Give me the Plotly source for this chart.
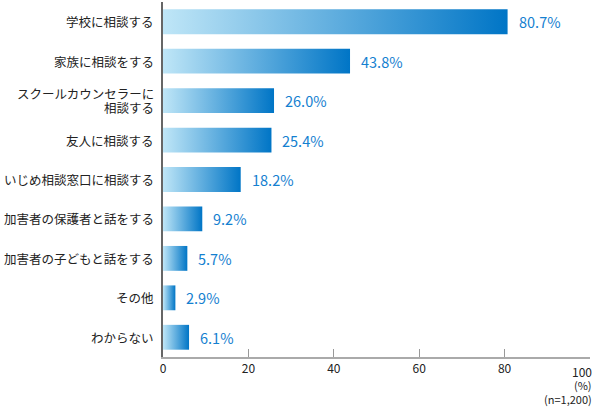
import plotly.graph_objects as go

categories = [
    "学校に相談する",
    "家族に相談をする",
    "スクールカウンセラーに\n相談する",
    "友人に相談する",
    "いじめ相談窓口に相談する",
    "加害者の保護者と話をする",
    "加害者の子どもと話をする",
    "その他",
    "わからない",
]
values = [80.7, 43.8, 26.0, 25.4, 18.2, 9.2, 5.7, 2.9, 6.1]
x_ticks = [0, 20, 40, 60, 80, 100]

FONT = "Noto Sans CJK JP"
LIGHT = "#bfe6f7"
DARK = "#0075c6"
LABEL_BLUE = "#1480d0"
TEXT = "#222222"
half = 0.315

fig = go.Figure()

for i, v in enumerate(values):
    fig.add_trace(
        go.Scatter(
            x=[0, v, v, 0, 0],
            y=[i - half, i - half, i + half, i + half, i - half],
            mode="lines",
            line=dict(width=0),
            fill="toself",
            fillgradient=dict(
                type="horizontal",
                colorscale=[[0, LIGHT], [1, DARK]],
                start=0,
                stop=v,
            ),
            hoverinfo="skip",
            showlegend=False,
        )
    )
    fig.add_annotation(
        x=v, y=i, text=f"{v:.1f}%", showarrow=False,
        xanchor="left", xshift=9,
        font=dict(family=FONT, size=14.5, color=LABEL_BLUE),
    )

# category labels drawn as annotations so two-line labels get tight spacing
for i, cat in enumerate(categories):
    lines = cat.split("\n")
    n = len(lines)
    for k, line in enumerate(lines):
        fig.add_annotation(
            x=0, y=i, xref="x", yref="y", text=line, showarrow=False,
            xanchor="right", xshift=-7, yshift=(n - 1) * 7 - k * 14,
            font=dict(family=FONT, size=12.5, color=TEXT),
        )

# last x tick label kept inside the page
fig.add_annotation(
    x=x_ticks[-1], y=0, xref="x", yref="paper", text=str(x_ticks[-1]),
    showarrow=False, xanchor="right", yanchor="middle", xshift=4, yshift=-14,
    font=dict(family=FONT, size=12, color=TEXT),
)
fig.add_annotation(
    x=1, y=0, xref="paper", yref="paper", yshift=-28, xshift=4,
    text="(%)", showarrow=False, xanchor="right", yanchor="middle",
    font=dict(family=FONT, size=11, color=TEXT),
)
fig.add_annotation(
    x=1, y=0, xref="paper", yref="paper", yshift=-42, xshift=4,
    text="(n=1,200)", showarrow=False, xanchor="right", yanchor="middle",
    font=dict(family=FONT, size=11, color=TEXT),
)

fig.update_layout(
    width=596,
    height=411,
    margin=dict(l=163, r=6, t=2, b=54, autoexpand=False),
    plot_bgcolor="white",
    paper_bgcolor="white",
    font=dict(family=FONT, size=12, color=TEXT),
    xaxis=dict(
        range=[0, 100],
        tickvals=x_ticks,
        ticktext=[str(t) for t in x_ticks[:-1]] + [""],
        ticks="inside",
        ticklen=8,
        tickcolor="#999999",
        showgrid=False,
        zeroline=False,
        showline=True,
        linecolor="#aaaaaa",
        linewidth=2,
        automargin=False,
        tickfont=dict(family=FONT, size=12, color=TEXT),
        fixedrange=True,
    ),
    yaxis=dict(
        range=[8.5, -0.5],
        tickvals=list(range(len(categories))),
        ticktext=[""] * len(categories),
        ticks="",
        showgrid=False,
        zeroline=False,
        showline=True,
        linecolor="#666666",
        linewidth=1.5,
        automargin=False,
        fixedrange=True,
    ),
)

fig.write_html(
    "out.html",
    config={"displayModeBar": False},
    post_script="document.body.style.margin='0';document.body.style.overflow='hidden';",
)
